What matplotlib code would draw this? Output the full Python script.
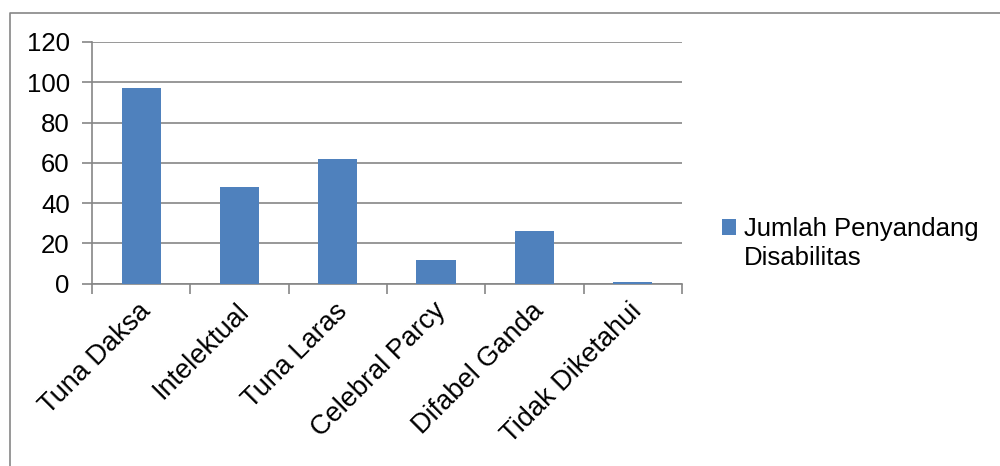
import matplotlib
matplotlib.use("Agg")
import matplotlib.pyplot as plt
from matplotlib.lines import Line2D
from matplotlib.patches import Rectangle

categories = ["Tuna Daksa", "Intelektual", "Tuna Laras", "Celebral Parcy",
              "Difabel Ganda", "Tidak Diketahui"]
values = [97, 48, 62, 12, 26, 1]
series_lines = ["Jumlah Penyandang", "Disabilitas"]
yticks = [0, 20, 40, 60, 80, 100, 120]

plt.rcParams["font.family"] = ["Liberation Sans", "DejaVu Sans"]
BAR = "#4f81bd"
GRID = "#868686"

fig = plt.figure(figsize=(10, 4.66), dpi=100)
# outer chart border: only top and left edges are visible in the crop
fig.lines.append(Line2D([0.010, 0.010, 1.0], [0.0, 0.972, 0.972], transform=fig.transFigure,
                        color=GRID, linewidth=1.2))

ax = fig.add_axes([0.092, 0.391, 0.590, 0.519])
x = range(len(categories))
bars = ax.bar(x, values, width=0.4, color=BAR, zorder=3)

ax.set_xlim(-0.5, len(categories) - 0.5)
ax.set_ylim(0, 120)
ax.set_yticks(yticks)
ax.tick_params(axis="y", labelsize=18.5, length=7, color=GRID, width=1.2, pad=9)
ax.grid(True, axis="y", color=GRID, linewidth=1.2, zorder=0)

# category boundary ticks, labels at centres
ax.set_xticks([i - 0.5 for i in range(len(categories) + 1)])
ax.set_xticklabels([])
ax.tick_params(axis="x", length=7, color=GRID, width=1.2)
for i, c in enumerate(categories):
    ax.text(i - 0.04, -7, c, rotation=45, ha="right", va="top",
            rotation_mode="anchor", fontsize=19.5)

for s in ["top", "right"]:
    ax.spines[s].set_visible(False)
for s in ["left", "bottom"]:
    ax.spines[s].set_color(GRID)
    ax.spines[s].set_linewidth(1.2)

# Excel-style legend: square sits next to the first line of the wrapped name
blank = Rectangle((0, 0), 1, 1, fill=False, edgecolor="none")
fig.legend([bars.patches[0], blank], series_lines,
           loc="center left", bbox_to_anchor=(0.699, 0.478), frameon=False,
           fontsize=18.5, handlelength=0.55, handleheight=0.55, handletextpad=0.3,
           labelspacing=0.18)

fig.savefig("out.png", dpi=100)
